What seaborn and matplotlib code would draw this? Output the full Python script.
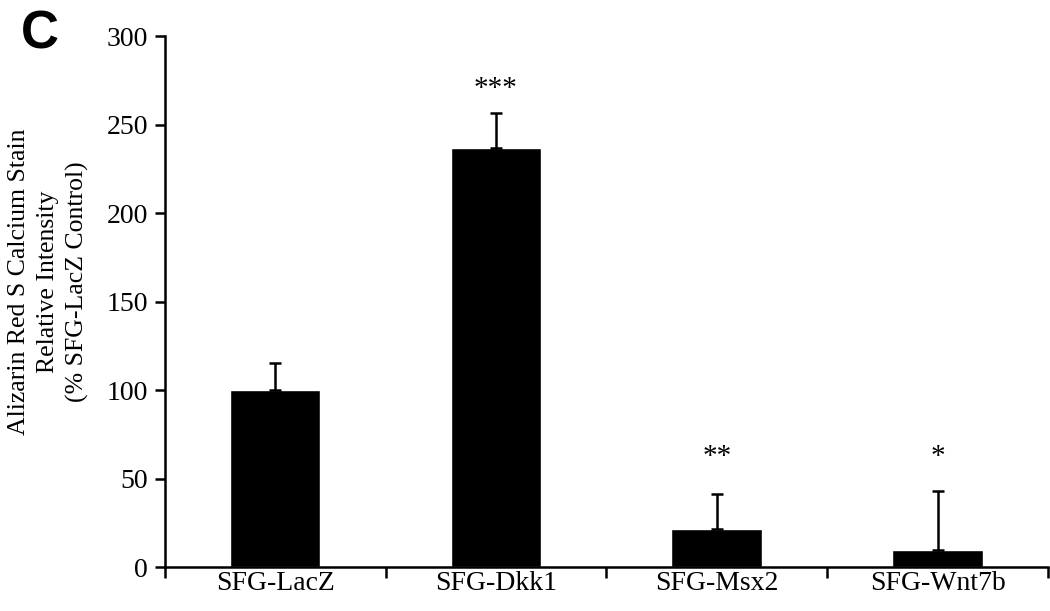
import matplotlib
matplotlib.use("Agg")
import matplotlib.pyplot as plt
import seaborn as sns
import pandas as pd

groups = ["SFG-LacZ", "SFG-Dkk1", "SFG-Msx2", "SFG-Wnt7b"]
means = [100, 237, 21.5, 9.5]
errs = [15, 19.5, 19.5, 33.5]
stars = ["", "***", "**", "*"]
star_y = [0, 263, 55, 55]

sns.set_style("ticks")
plt.rcParams['font.family'] = ['Liberation Serif', 'DejaVu Serif']
plt.rcParams['text.color'] = 'black'
plt.rcParams['axes.labelcolor'] = 'black'
plt.rcParams['xtick.color'] = 'black'
plt.rcParams['ytick.color'] = 'black'
plt.rcParams['axes.edgecolor'] = 'black'

df = pd.DataFrame({"group": groups, "value": means})

fig = plt.figure(figsize=(10.5, 6.11), dpi=100)
ax = fig.add_axes([0.157, 0.072, 0.841, 0.869])
sns.barplot(data=df, x="group", y="value", color="black", width=0.41,
            saturation=1, errorbar=None, ax=ax)
ax.errorbar(range(len(groups)), means, yerr=[[0] * len(errs), errs],
            fmt="none", ecolor="black", elinewidth=1.8, capsize=4, capthick=1.8)

for i, (s, y) in enumerate(zip(stars, star_y)):
    if s:
        ax.text(i, y, s, ha="center", va="bottom", fontsize=21)

ax.set_xlim(-0.5, 3.5)
ax.set_ylim(0, 300)
ax.set_yticks(range(0, 301, 50))
ax.set_xticks([-0.5, 0.5, 1.5, 2.5, 3.5], minor=True)
ax.tick_params(axis="x", which="major", length=0, labelsize=20, pad=3)
ax.tick_params(axis="x", which="minor", length=8, width=1.8, direction="out")
ax.tick_params(axis="y", length=7, width=1.8, labelsize=20, pad=5)
ax.set_xlabel("")
ax.set_ylabel("Alizarin Red S Calcium Stain\nRelative Intensity\n(% SFG-LacZ Control)",
              fontsize=18.5, linespacing=1.4)
ax.yaxis.set_label_coords(-0.086, 0.537)
for side in ["left", "bottom"]:
    ax.spines[side].set_linewidth(1.8)
sns.despine(ax=ax)

fig.text(0.02, 0.985, "C", fontsize=38, fontweight="bold",
         family="Liberation Sans", va="top", ha="left")

fig.savefig("out.png", dpi=100)
